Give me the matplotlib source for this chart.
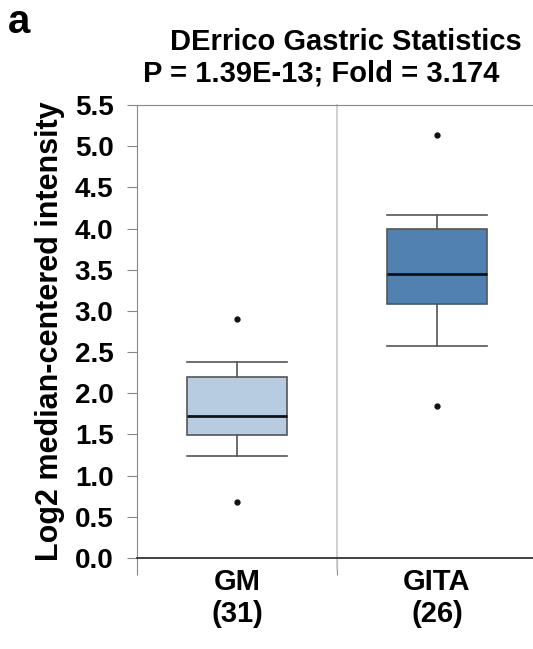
import matplotlib
matplotlib.use("Agg")
import matplotlib.pyplot as plt

plt.rcParams['font.family'] = ['Liberation Sans', 'DejaVu Sans']
plt.rcParams['font.weight'] = 'bold'

# box statistics
groups = ["GM", "GITA"]
counts = [31, 26]
whislo = [1.24, 2.57]
q1 = [1.49, 3.08]
med = [1.72, 3.45]
q3 = [2.20, 4.00]
whishi = [2.38, 4.17]
fliers = [[2.90, 0.68], [5.13, 1.85]]
colors = ["#b7cbe1", "#5181b1"]
yticks = [0.0, 0.5, 1.0, 1.5, 2.0, 2.5, 3.0, 3.5, 4.0, 4.5, 5.0, 5.5]

stats = []
for i in range(len(groups)):
    stats.append(dict(label=groups[i], whislo=whislo[i], q1=q1[i], med=med[i],
                      q3=q3[i], whishi=whishi[i], fliers=fliers[i]))

fig = plt.figure(figsize=(5.33, 6.49), dpi=100)
ax = fig.add_axes([137/533, 1 - 558/649, 1 - 137/533, (558 - 105)/649])

bp = ax.bxp(stats, positions=[1, 2], widths=0.5, patch_artist=True,
            boxprops=dict(edgecolor="#555555", linewidth=1.2),
            whiskerprops=dict(color="#555555", linewidth=1.2),
            capprops=dict(color="#555555", linewidth=1.2),
            medianprops=dict(color="#111111", linewidth=2),
            flierprops=dict(marker='o', markersize=3.5, markerfacecolor='#111111',
                            markeredgecolor='#111111'),
            capwidths=0.5)
for patch, c in zip(bp['boxes'], colors):
    patch.set_facecolor(c)

# light divider between groups
ax.axvline(1.5, color="#c8c8c8", linewidth=1.2, ymin=-0.027, clip_on=False)

ax.set_xlim(0.5, 2.48)
ax.set_ylim(0, 5.5)
ax.set_yticks(yticks)
ax.set_yticklabels([f"{v:.1f}" for v in yticks], fontsize=20, fontweight='bold')
ax.tick_params(axis='y', direction='out', length=7, color="#888888", pad=10)

ax.set_xticks([0.5, 1.5])
ax.set_xticklabels(["", ""])
ax.tick_params(axis='x', direction='out', length=12, color="#888888")
ax.set_xticks([1, 2], minor=True)
ax.set_xticklabels([f"{g}\n({n})" for g, n in zip(groups, counts)], minor=True,
                   fontsize=21, fontweight='bold', linespacing=1.2)
ax.tick_params(axis='x', which='minor', length=0, pad=7)

ax.spines['right'].set_visible(False)
ax.spines['left'].set_color("#888888")
ax.spines['top'].set_color("#888888")
ax.spines['bottom'].set_color("#333333")
ax.spines['bottom'].set_linewidth(1.3)

ax.set_ylabel("Log2 median-centered intensity", fontsize=22, fontweight='bold')
ax.yaxis.set_label_coords(-72/396, 0.5)

fig.text(346/533, 1 - 50/649, "DErrico Gastric Statistics", ha='center',
         va='baseline', fontsize=21, fontweight='bold')
fig.text(321/533, 1 - 82/649, "P = 1.39E-13; Fold = 3.174", ha='center',
         va='baseline', fontsize=21, fontweight='bold')
fig.text(8/533, 1 - 33/649, "a", ha='left', va='baseline', fontsize=29,
         fontweight='bold')

fig.savefig("out.png", dpi=100)
